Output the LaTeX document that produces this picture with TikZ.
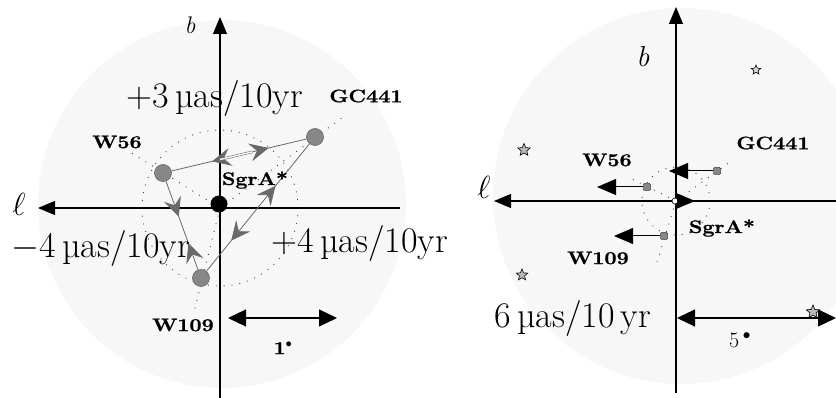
\RequirePackage{fix-cm}
\documentclass[tikz,border=0pt]{standalone}
\usepackage{fontspec}
\newfontfamily\lblfont[FakeStretch=1.2,FakeBold=1.2]{Latin Modern Roman}
\usetikzlibrary{arrows.meta,shapes.geometric,decorations.markings}
\definecolor{discgray}{RGB}{247,247,247}
\definecolor{edgegray}{RGB}{105,105,105}
\definecolor{srcfill}{RGB}{135,135,135}
\tikzset{
  disc/.style={fill=discgray},
  axisline/.style={line width=1.1pt, -{Triangle[length=17pt,width=14pt]}},
  src/.style={circle, fill=srcfill, draw=black!60, line width=0.6pt, minimum size=17pt, inner sep=0pt},
  edge/.style={edgegray, line width=0.8pt},
  bigtxt/.style={font=\fontsize{36}{36}\selectfont, inner sep=0pt},
  lbl/.style={font=\fontsize{18}{18}\selectfont\lblfont\bfseries, inner sep=0pt},
  dots/.style={black!75, line width=0.9pt, dash pattern=on 0.9pt off 7pt},
  marker/.style={rectangle, rounded corners=1pt, fill=srcfill, draw=black!75, line width=0.5pt, minimum size=7pt, inner sep=0pt},
  mvarrow/.style={line width=1pt, -{Triangle[length=19pt,width=16pt]}},
  scalearrow/.style={line width=1.1pt, {Triangle[length=18pt,width=17pt]}-{Triangle[length=18pt,width=17pt]}},
  fstar/.style={star, star points=5, star point ratio=2.2, draw=black, line width=0.6pt, fill=gray!55, inner sep=0pt, minimum size=12pt},
  arrowsout/.style n args={2}{postaction={decorate}, decoration={markings,
     mark=at position #1 with {\arrowreversed{Stealth[length=19pt,width=18pt,inset=7pt]}},
     mark=at position #2 with {\arrow{Stealth[length=19pt,width=18pt,inset=7pt]}}}},
  arrowsin/.style n args={2}{postaction={decorate}, decoration={markings,
     mark=at position #1 with {\arrow{Stealth[length=19pt,width=18pt,inset=7pt]}},
     mark=at position #2 with {\arrowreversed{Stealth[length=19pt,width=18pt,inset=7pt]}}}},
}
\begin{document}
\begin{tikzpicture}[x=1pt,y=-1pt]
\useasboundingbox (0,0) rectangle (836,398);
\begin{scope}
  \clip (0,0) rectangle (836,398);
  \fill[disc] (222,204) circle[radius=184pt];
  \fill[disc] (681,196) circle[radius=188pt];
\end{scope}

% ---------------- left panel ----------------
\coordinate (Lo) at (220,208);
\coordinate (Lvb) at (220,398);
\coordinate (Lvt) at (220,17);
\coordinate (Lhr) at (400,208);
\coordinate (Lhl) at (38,208);
\draw[dots] (Lo) circle[radius=78pt];
\coordinate (gcx) at (343,117);
\coordinate (w56x) at (130,152);
\coordinate (w109x) at (194,312);
\draw[dots] (Lo) -- (gcx);
\draw[dots] (Lo) -- (w56x);
\draw[dots] (Lo) -- (w109x);
\draw[axisline] (Lvb) -- (Lvt);
\draw[axisline] (Lhr) -- (Lhl);

\node[circle, fill=black, minimum size=17pt, inner sep=0pt] (sgr) at (219,204) {};
\node[src] (gc) at (315,137) {};
\node[src] (w56) at (163,173) {};
\node[src] (w109) at (201,278) {};

\path (w56) -- (gc) coordinate[pos=0.36] (d1) coordinate[pos=0.6] (d2);
\draw[edge, arrowsout={0.3}{0.72}] (w56) -- (gc);
\draw[edgegray, line width=0.5pt, double=discgray, double distance=1.4pt] (d1) -- (d2);
\draw[edge, arrowsin={0.4}{0.7}] (w56) -- (w109);
\draw[edge, arrowsout={0.33}{0.76}] (gc) -- (w109);

\node[font=\fontsize{24}{24}\selectfont\itshape, inner sep=0pt] (bL) at (190,25) {b};
\node[font=\fontsize{32}{32}\selectfont, inner sep=0pt] (ellL) at (19,204) {$\ell$};
\node[bigtxt] (t3) at (215,99) {+3\,µas/10yr};
\node[bigtxt] (t4m) at (101,249) {$-$4\,µas/10yr};
\node[bigtxt] (t4p) at (360,244) {+4\,µas/10yr};
\node[lbl] (lgc) at (366,96) {GC441};
\node[lbl] (lw56) at (117,142) {W56};
\node[lbl] (lsgr) at (255,180) {SgrA*};
\node[lbl] (lw109) at (183,325) {W109};
\coordinate (s1a) at (228,318);
\coordinate (s1b) at (337,318);
\draw[scalearrow] (s1a) -- (s1b);
\node[lbl] (deg1) at (283,348) {1$^{\bullet}$};

% ---------------- right panel ----------------
\coordinate (Ro) at (676,201);
\coordinate (Rvb) at (676,393);
\coordinate (Rvt) at (676,7);
\coordinate (Rhr) at (836,201);
\coordinate (Rhl) at (494,201);
\draw[dots] (Ro) circle[radius=34pt];
\coordinate (gcRx) at (730,162);
\coordinate (w56Rx) at (630,178);
\coordinate (w109Rx) at (657,262);
\draw[dots] (Ro) -- (gcRx);
\draw[dots] (Ro) -- (w56Rx);
\draw[dots] (Ro) -- (w109Rx);
\draw[axisline] (Rvb) -- (Rvt);
\draw[axisline] (Rhr) -- (Rhl);

\node[circle, draw=black, fill=white, line width=0.6pt, minimum size=6pt, inner sep=0pt] (sgrR) at (675,201) {};
\coordinate (sgrRt) at (695,201);
\draw[line width=1pt, -{Triangle[length=18pt,width=15pt]}] (sgrR) -- (sgrRt);

\node[marker] (gcR) at (717,171) {};
\node[marker] (w56R) at (647,187) {};
\node[marker] (w109R) at (664,236) {};
\coordinate (gcRt) at (669,171);
\coordinate (w56Rt) at (597,187);
\coordinate (w109Rt) at (614,236);
\draw[mvarrow] (gcR) -- (gcRt);
\draw[mvarrow] (w56R) -- (w56Rt);
\draw[mvarrow] (w109R) -- (w109Rt);

\node[fstar, minimum size=10pt, fill=gray!30] (st1) at (756,70) {};
\node[fstar, minimum size=13pt] (st2) at (524,150) {};
\node[fstar, minimum size=12pt] (st3) at (522,275) {};
\node[fstar, minimum size=14pt] (st4) at (813,312) {};

\node[font=\fontsize{29}{29}\selectfont\itshape, inner sep=0pt] (bR) at (643,57) {b};
\node[font=\fontsize{32}{32}\selectfont, inner sep=0pt] (ellR) at (484,187) {$\ell$};
\node[lbl] (rgc) at (773,143) {GC441};
\node[lbl] (rw56) at (607,160) {W56};
\node[lbl] (rsgr) at (722,228) {SgrA*};
\node[lbl] (rw109) at (598,258) {W109};
\node[bigtxt] (t6) at (573,318) {6\,µas/10\,yr};
\coordinate (s5a) at (677,318);
\coordinate (s5b) at (836,318);
\draw[scalearrow] (s5a) -- (s5b);
\node[font=\fontsize{22}{22}\selectfont, inner sep=0pt] (deg5) at (740,340) {5\,$^{\bullet}$};
\end{tikzpicture}
\end{document}
